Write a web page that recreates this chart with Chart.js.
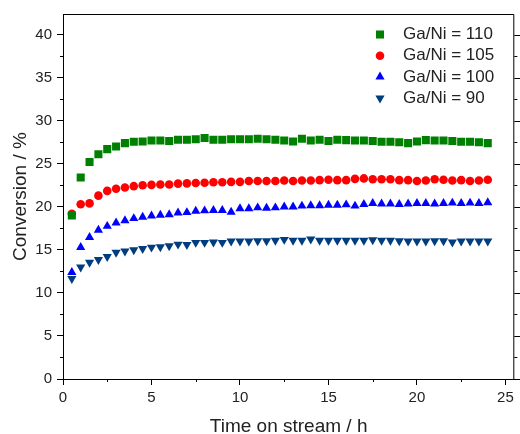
<!DOCTYPE html>
<html>
<head>
<meta charset="utf-8">
<script src="https://cdn.jsdelivr.net/npm/chart.js@4"></script>
<style>
  body { margin: 0; background: #fff; }
  canvas { display: block; }
</style>
</head>
<body>
<canvas id="chart" width="520" height="434"></canvas>
<script>
// Data (time on stream in h, conversion in %)
const hours = [0.5, 1, 1.5, 2, 2.5, 3, 3.5, 4, 4.5, 5, 5.5, 6, 6.5, 7, 7.5, 8, 8.5, 9, 9.5, 10,
  10.5, 11, 11.5, 12, 12.5, 13, 13.5, 14, 14.5, 15, 15.5, 16, 16.5, 17, 17.5, 18, 18.5, 19, 19.5, 20,
  20.5, 21, 21.5, 22, 22.5, 23, 23.5, 24];

const conv110 = [19.0, 23.4, 25.2, 26.1, 26.7, 27.0, 27.4, 27.55, 27.6, 27.7, 27.7, 27.65, 27.8, 27.8, 27.85, 28.0, 27.8, 27.8, 27.85, 27.85,
  27.85, 27.9, 27.85, 27.8, 27.7, 27.6, 27.9, 27.7, 27.8, 27.65, 27.8, 27.75, 27.7, 27.7, 27.65, 27.55, 27.55, 27.5, 27.4, 27.6,
  27.75, 27.7, 27.7, 27.65, 27.55, 27.55, 27.5, 27.4];

const conv105 = [19.2, 20.3, 20.4, 21.3, 21.85, 22.1, 22.25, 22.4, 22.5, 22.55, 22.6, 22.6, 22.7, 22.72, 22.76, 22.8, 22.85, 22.85, 22.9, 22.9,
  23.0, 23.0, 23.0, 23.0, 23.05, 23.0, 23.05, 23.05, 23.1, 23.15, 23.1, 23.1, 23.25, 23.3, 23.2, 23.2, 23.2, 23.1, 23.1, 23.0,
  23.05, 23.2, 23.15, 23.05, 23.1, 23.0, 23.05, 23.15];

const conv100 = [12.4, 15.3, 16.45, 17.3, 17.75, 18.15, 18.4, 18.65, 18.8, 18.95, 19.05, 19.1, 19.3, 19.35, 19.5, 19.55, 19.6, 19.6, 19.4, 19.8,
  19.8, 19.9, 19.85, 19.9, 20.0, 20.0, 20.1, 20.15, 20.15, 20.2, 20.2, 20.25, 20.1, 20.3, 20.4, 20.35, 20.35, 20.3, 20.35, 20.4,
  20.4, 20.35, 20.4, 20.45, 20.4, 20.45, 20.4, 20.5];

const conv90 = [11.65, 13.0, 13.55, 13.85, 14.2, 14.7, 14.85, 15.0, 15.15, 15.3, 15.35, 15.45, 15.65, 15.6, 15.85, 15.85, 15.9, 15.85, 16.0, 16.0,
  16.0, 16.05, 16.05, 16.1, 16.2, 16.1, 16.1, 16.25, 16.1, 16.1, 16.1, 16.1, 16.1, 16.1, 16.15, 16.1, 16.1, 16.05, 16.0, 16.0,
  16.0, 16.05, 16.05, 15.9, 16.0, 16.0, 16.0, 16.0];

const seriesLabels = ['Ga/Ni = 110', 'Ga/Ni = 105', 'Ga/Ni = 100', 'Ga/Ni = 90'];
const seriesValues = [conv110, conv105, conv100, conv90];

// Styles
const colors = ['#008000', '#ff0000', '#0000ff', '#003d7f'];
const styles = ['rect', 'circle', 'triangle', 'triangle'];
const rotations = [0, 0, 0, 180];
const radii = [5.7, 4.3, 5.3, 5.3];
const FONT = "'Liberation Sans', Arial, sans-serif";

const datasets = seriesValues.map((vals, i) => ({
  label: seriesLabels[i],
  data: hours.map((h, j) => ({ x: h, y: vals[j] })),
  showLine: false,
  pointStyle: styles[i],
  rotation: rotations[i],
  pointRadius: radii[i],
  pointBackgroundColor: colors[i],
  pointBorderColor: colors[i],
  pointBorderWidth: 0
}));

// Draw one legend marker shape
function drawMarker(ctx, i, x, y) {
  const r = radii[i];
  ctx.fillStyle = colors[i];
  ctx.beginPath();
  if (styles[i] === 'rect') {
    const s = Math.SQRT1_2 * r;
    ctx.rect(x - s, y - s, 2 * s, 2 * s);
  } else if (styles[i] === 'circle') {
    ctx.arc(x, y, r, 0, Math.PI * 2);
  } else {
    const dir = rotations[i] === 180 ? -1 : 1;
    const h = r * Math.sqrt(3) / 2;
    ctx.moveTo(x, y - dir * r);
    ctx.lineTo(x + h, y + dir * r / 2);
    ctx.lineTo(x - h, y + dir * r / 2);
    ctx.closePath();
  }
  ctx.fill();
}

// Box frame, minor ticks and legend
const framePlugin = {
  id: 'frame',
  afterDraw(chart) {
    const { ctx, chartArea: a, scales } = chart;
    ctx.save();
    ctx.strokeStyle = '#000';
    ctx.lineWidth = 1;
    ctx.beginPath();
    ctx.moveTo(a.left, a.top + 0.5);
    ctx.lineTo(a.right - 0.5, a.top + 0.5);
    ctx.lineTo(a.right - 0.5, a.bottom);
    ctx.stroke();

    // minor ticks on x
    ctx.beginPath();
    scales.x.ticks.forEach(t => {
      if (t.value % 5 === 0) return;
      const px = Math.round(scales.x.getPixelForValue(t.value)) + 0.5;
      ctx.moveTo(px, a.bottom);
      ctx.lineTo(px, a.bottom + 3);
    });
    // minor ticks on y, plus right-side ticks
    scales.y.ticks.forEach(t => {
      const py = Math.round(scales.y.getPixelForValue(t.value)) + 0.5;
      const len = t.value % 5 === 0 ? 6 : 3;
      if (t.value % 5 !== 0) {
        ctx.moveTo(a.left - 3, py);
        ctx.lineTo(a.left, py);
      }
      ctx.moveTo(a.right, py);
      ctx.lineTo(a.right + len, py);
    });
    ctx.stroke();

    // legend
    ctx.font = '17px ' + FONT;
    ctx.textBaseline = 'middle';
    ctx.textAlign = 'left';
    seriesLabels.forEach((label, i) => {
      const y = 34.5 + i * 21.2;
      drawMarker(ctx, i, 380, y);
      ctx.fillStyle = '#222';
      ctx.fillText(label, 403, y);
    });
    ctx.restore();
  }
};

const tickColor = ctx => (ctx.tick && ctx.tick.value % 5 === 0 ? '#000' : 'rgba(0,0,0,0)');

new Chart(document.getElementById('chart'), {
  type: 'scatter',
  data: { datasets },
  plugins: [framePlugin],
  options: {
    responsive: false,
    animation: false,
    layout: { padding: { top: 13, right: 1, left: 0, bottom: 0 } },
    plugins: { legend: { display: false }, tooltip: { enabled: false } },
    scales: {
      x: {
        type: 'linear',
        min: 0,
        max: 25.5,
        afterFit: s => { s.height = 55; },
        border: { display: true, color: '#000', width: 1 },
        grid: { drawOnChartArea: false, drawTicks: true, tickLength: 6, tickColor },
        ticks: {
          stepSize: 2.5,
          includeBounds: false,
          autoSkip: false,
          maxRotation: 0,
          padding: 4,
          color: '#222',
          font: { family: FONT, size: 15 },
          callback: v => (v % 5 === 0 ? v : '')
        },
        title: {
          display: true,
          text: 'Time on stream / h',
          color: '#222',
          font: { family: FONT, size: 19, lineHeight: 0.8 },
          padding: { top: 0, bottom: 0 }
        }
      },
      y: {
        type: 'linear',
        min: 0,
        max: 42.4,
        afterFit: s => { s.width = 63; },
        border: { display: true, color: '#000', width: 1 },
        grid: { drawOnChartArea: false, drawTicks: true, tickLength: 6, tickColor },
        ticks: {
          stepSize: 2.5,
          includeBounds: false,
          autoSkip: false,
          padding: 5,
          color: '#222',
          font: { family: FONT, size: 15 },
          callback: v => (v % 5 === 0 ? v : '')
        },
        title: {
          display: true,
          text: 'Conversion / %',
          color: '#222',
          font: { family: FONT, size: 19 },
          padding: { top: 9, bottom: 0 }
        }
      }
    }
  }
});
</script>
</body>
</html>
